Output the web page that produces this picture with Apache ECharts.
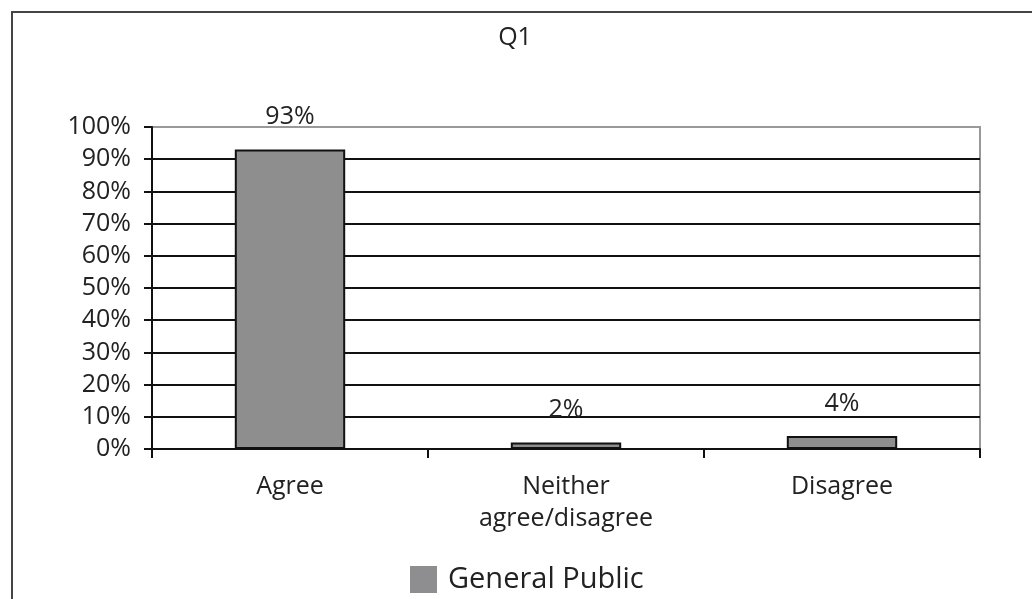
<!DOCTYPE html>
<html>
<head>
<meta charset="utf-8">
<script src="https://cdn.jsdelivr.net/npm/echarts@6/dist/echarts.min.js"></script>
<style>
  html, body { margin: 0; padding: 0; background: #fff; }
  #chart { width: 1032px; height: 599px; }
</style>
</head>
<body>
<div id="chart"></div>
<script>
// Q1 responses
const categories = ['Agree', 'Neither\nagree/disagree', 'Disagree'];
const generalPublic = [93, 2, 4];
const yTicks = [0, 10, 20, 30, 40, 50, 60, 70, 80, 90, 100];

const chart = echarts.init(document.getElementById('chart'));
const font = 'Open Sans';

// split lines black, top one (100%) grey like the plot border
const splitColors = yTicks.map((t) => (t === 100 ? '#999' : '#111'));

chart.setOption({
  backgroundColor: '#fff',
  animation: false,
  title: {
    text: 'Q1',
    left: 515,
    top: 25,
    padding: 0,
    textAlign: 'center',
    textStyle: { fontFamily: font, fontSize: 25, fontWeight: 'normal', color: '#222' },
  },
  legend: {
    data: ['General Public'],
    left: 410,
    top: 565,
    padding: 0,
    itemWidth: 27,
    itemHeight: 27,
    itemGap: 10,
    icon: 'rect',
    itemStyle: { borderWidth: 0, color: '#8e8e90' },
    textStyle: { fontFamily: font, fontSize: 29, color: '#222', padding: [0, 0, 0, 6] },
  },
  graphic: [
    {
      type: 'rect',
      shape: { x: 12, y: 12, width: 1100, height: 700 },
      style: { fill: 'none', stroke: '#444', lineWidth: 2 },
      silent: true,
    },
  ],
  grid: {
    left: 152,
    right: 52,
    top: 127,
    bottom: 150,
    show: true,
    borderColor: '#999',
    borderWidth: 2,
  },
  xAxis: {
    type: 'category',
    data: categories,
    axisLine: { lineStyle: { color: '#111', width: 2 } },
    axisTick: { show: true, length: 9, lineStyle: { color: '#111', width: 2 } },
    axisLabel: {
      fontFamily: font,
      fontSize: 25,
      color: '#222',
      margin: 22,
      lineHeight: 32,
    },
  },
  yAxis: {
    type: 'value',
    min: 0,
    max: 100,
    interval: 10,
    axisLine: { show: true, lineStyle: { color: '#111', width: 2 } },
    axisTick: { show: true, length: 8, lineStyle: { color: '#111', width: 2 } },
    axisLabel: {
      fontFamily: font,
      fontSize: 25,
      color: '#222',
      margin: 21,
      padding: [0, 0, 8, 0],
      formatter: '{value}%',
    },
    splitLine: { show: true, lineStyle: { color: splitColors, width: 2 } },
  },
  series: [
    {
      name: 'General Public',
      type: 'bar',
      data: generalPublic,
      barWidth: '40%',
      itemStyle: { color: '#8e8e8e', borderColor: '#111', borderWidth: 2 },
      label: {
        show: true,
        position: 'top',
        distance: 20,
        formatter: '{c}%',
        fontFamily: font,
        fontSize: 25,
        color: '#222',
      },
    },
  ],
});
</script>
</body>
</html>
